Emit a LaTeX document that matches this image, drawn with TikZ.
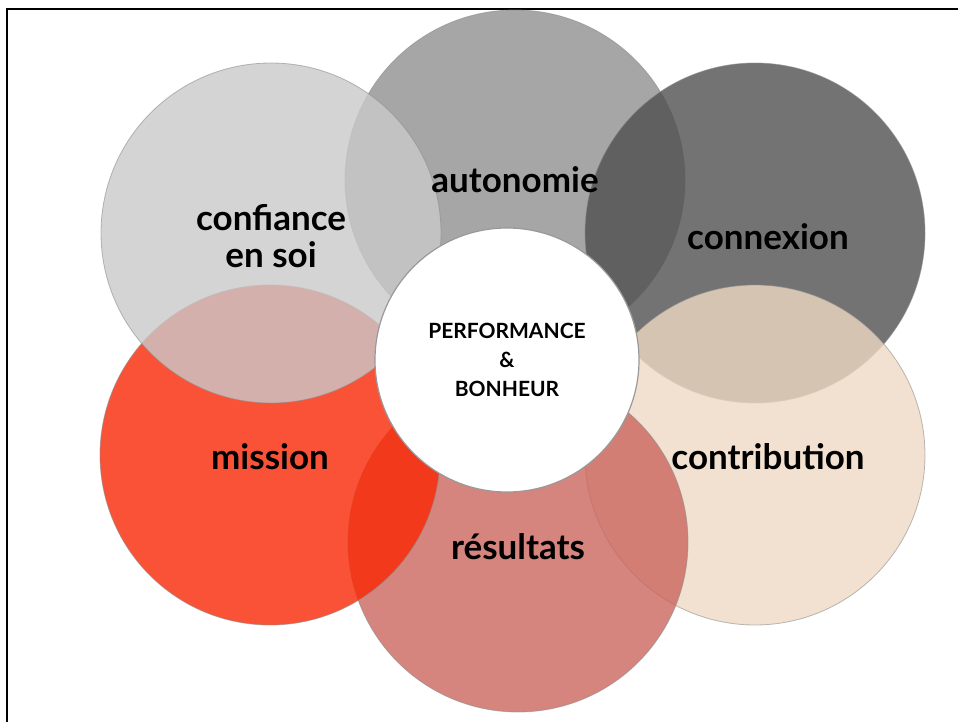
\documentclass[tikz,border=0pt]{standalone}
\usepackage{fontspec}
\setmainfont{Lato}
\usepackage{tikz}
\definecolor{confgray}{RGB}{201,201,201}
\definecolor{autogray}{RGB}{144,144,144}
\definecolor{conngray}{RGB}{80,80,80}
\definecolor{contribbeige}{RGB}{239,218,196}
\definecolor{resultrose}{RGB}{202,102,94}
\definecolor{missionred}{RGB}{249,39,4}

\begin{document}
\begin{tikzpicture}[x=1pt, y=-1pt,
      bubble/.style={circle, inner sep=0pt, minimum size=340pt,
        fill opacity=0.8, draw=black!45, draw opacity=0.6, line width=0.8pt},
      hub/.style={circle, inner sep=0pt, minimum size=264pt,
        fill=white, draw=black!40, line width=1.2pt},
      word/.style={font=\bfseries\fontsize{35}{37}\selectfont, align=center, text=black},
      hubword/.style={font=\bfseries\fontsize{21}{29}\selectfont, align=center, text=black}
      ]
      \useasboundingbox (0,0) rectangle (958,722);
      % frame
      \draw[line width=2pt] (7,722) -- (7,9) -- (958,9);

      % circles
      \node[bubble, fill=autogray] (autonomie) at (515,180) {};
      \node[bubble, fill=conngray] (connexion) at (755,233) {};
      \node[bubble, fill=contribbeige] (contribution) at (755,455) {};
      \node[bubble, fill=resultrose] (resultats) at (518,542) {};
      \node[bubble, fill=missionred] (mission) at (270,455) {};
      \node[bubble, fill=confgray] (confiance) at (271,233) {};

      % centre
      \node[hub] (centre) at (507,360) {};

      % labels
      \node[word] at ([yshift=-3pt]confiance) {confiance\\en soi};
      \node[word] at ([yshift=0pt]autonomie) {autonomie};
      \node[word] at ([xshift=13pt,yshift=-4pt]connexion) {connexion};
      \node[word] at ([xshift=13pt,yshift=-2pt]contribution) {contribution};
      \node[word] at ([yshift=-5pt]resultats) {résultats};
      \node[word] at ([yshift=-2pt]mission) {mission};
      \node[hubword] at (centre) {PERFORMANCE\\\&\\BONHEUR};
    \end{tikzpicture}
\end{document}
